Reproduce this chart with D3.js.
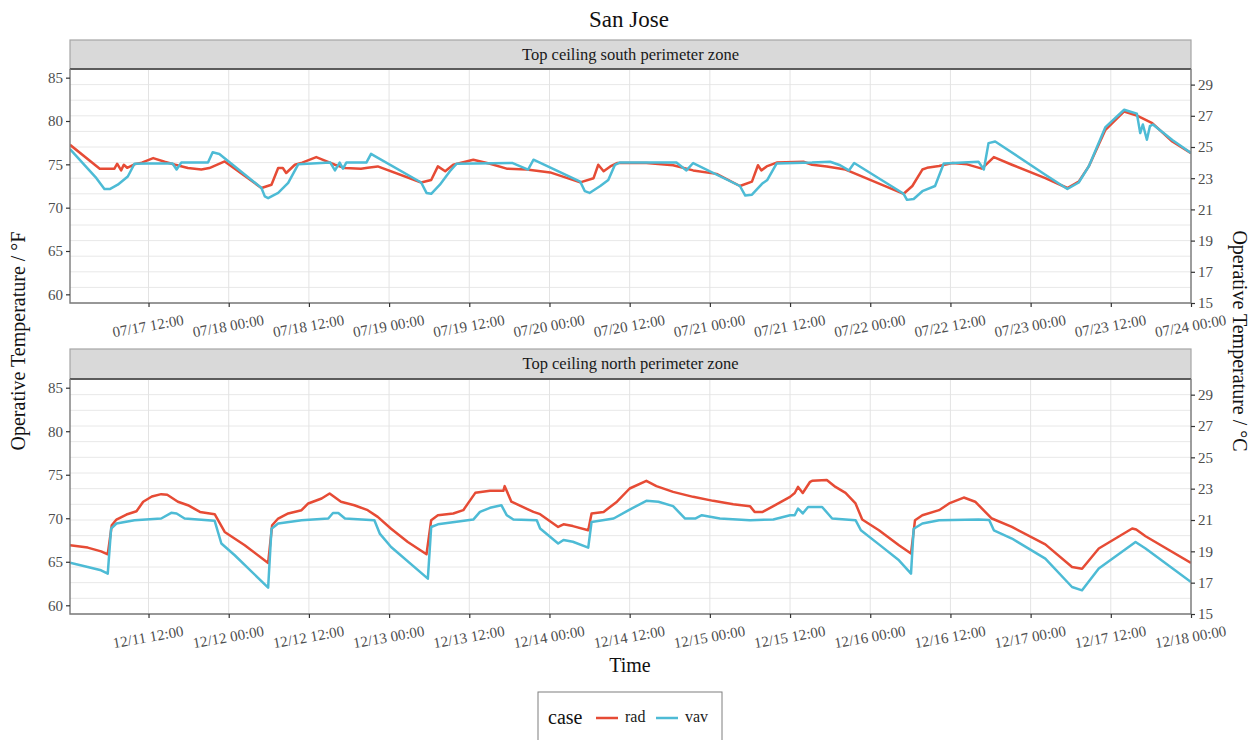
<!DOCTYPE html>
<html>
<head>
<meta charset="utf-8">
<script src="https://cdn.jsdelivr.net/npm/d3@7/dist/d3.min.js"></script>
<style>
  html, body { margin: 0; padding: 0; background: #ffffff; }
  svg { display: block; }
  svg text { font-family: "Palatino Linotype", "Book Antiqua", Palatino, "Liberation Serif", serif; }
</style>
</head>
<body>
<svg id="chart" width="1255" height="740"></svg>
<script>
// ---- Data: operative temperature (°F), time as hours after midnight of the first day ----
const seriesNames = ["rad", "vav"];
const seriesColors = ["#E64B35", "#4DBBD5"];

const fTicks = [60, 65, 70, 75, 80, 85];
const cTicks = [15, 17, 19, 21, 23, 25, 27, 29];
const cGrid = [15, 16, 17, 18, 19, 20, 21, 22, 23, 24, 25, 26, 27, 28, 29, 30];

// Top ceiling south perimeter zone, 07/17 - 07/24
const southRadHours = [0.25, 4.7, 6.9, 7.3, 7.9, 8.3, 8.8, 9.9, 11, 12.7, 14.4, 16.0, 17.9, 19.9, 21.1, 23.4,
  28.9, 30.4, 31.4, 32.1, 32.6, 33.9, 35.0, 37.1, 38.3, 39.9, 41.4, 43.8, 44.8, 46.3,
  52.8, 54.3, 55.3, 56.4, 57.6, 60.6, 63.1, 65.6, 68.6, 72.1, 76.6, 78.6, 79.3, 80.1, 81.1, 82.1, 86.5,
  90.5, 93.5, 97.0, 100.5, 102.3, 103.2, 103.7, 104.5, 106.0, 110.0, 111.3, 113.5, 116.3, 117.3,
  125.0, 126.3, 127.8, 128.5, 130.3, 132.3, 134.5, 136.7, 138.5, 141.2, 146.2, 149.5, 151.2, 152.7,
  155.2, 158.0, 160.0, 162.2, 165.2, 168.0];
const southRadTemp = [77.25, 74.5, 74.5, 75.07, 74.3, 74.95, 74.6, 75.0, 75.2, 75.72, 75.3, 74.95, 74.57, 74.4, 74.57, 75.33,
  72.27, 72.65, 74.57, 74.57, 74.0, 74.95, 75.2, 75.84, 75.45, 74.95, 74.57, 74.5, 74.6, 74.76,
  72.9, 73.2, 74.76, 74.2, 74.95, 75.53, 75.07, 74.5, 74.4, 74.07, 72.92, 73.4, 74.95, 74.2, 74.76, 75.15, 75.15,
  74.9, 74.3, 73.9, 72.5, 73.0, 74.9, 74.3, 74.76, 75.2, 75.3, 74.95, 74.76, 74.4, 74.07,
  71.6, 72.5, 74.4, 74.6, 74.8, 75.15, 75.0, 74.5, 75.84, 74.95, 73.4, 72.27, 73.0, 74.76,
  78.98, 81.1, 80.6, 79.75, 77.64, 76.3];

const southVavHours = [0.25, 4.2, 5.4, 6.2, 7.4, 8.9, 9.9, 12, 15.6, 16.2, 16.9, 20.9, 21.6, 22.6,
  28.9, 29.4, 29.9, 31.4, 32.9, 34.4, 39.2, 39.9, 40.6, 41.1, 41.6, 44.6, 45.3, 46.0,
  52.8, 53.6, 54.3, 55.6, 57.1, 58.1, 66.5, 68.8, 69.6, 76.6, 77.3, 78.0, 79.6, 80.8, 81.8, 82.5,
  91.0, 92.5, 93.5, 100.5, 101.3, 102.3, 103.8, 104.6, 106.0, 111.3, 114.0, 115.5, 116.8, 117.6,
  125.0, 125.5, 126.5, 127.8, 129.7, 131.0, 136.2, 137.0, 137.7, 138.7, 146.2, 149.5, 151.2, 152.7,
  155.2, 158.0, 159.9, 160.4, 160.8, 161.4, 161.85, 162.3, 165.2, 168.0];
const southVavTemp = [76.76, 73.4, 72.15, 72.15, 72.65, 73.6, 75.07, 75.1, 75.1, 74.4, 75.2, 75.2, 76.4, 76.2,
  72.27, 71.3, 71.1, 71.7, 72.85, 75.0, 75.2, 74.3, 75.2, 74.5, 75.2, 75.2, 76.2, 75.9,
  72.9, 71.7, 71.6, 72.65, 74.2, 75.07, 75.15, 74.4, 75.53, 73.0, 71.9, 71.7, 72.5, 73.2, 74.95, 75.2,
  75.2, 74.3, 75.15, 72.5, 71.4, 71.5, 72.75, 73.2, 75.1, 75.2, 75.3, 74.9, 74.3, 75.15,
  71.6, 70.9, 71.0, 71.9, 72.5, 75.1, 75.3, 74.4, 77.45, 77.64, 73.8, 72.15, 72.9, 74.76,
  79.3, 81.3, 80.85, 78.6, 79.6, 77.83, 79.4, 79.6, 77.8, 76.3];

// Top ceiling north perimeter zone, 12/11 - 12/18
const northRadHours = [0.25, 2.9, 4.9, 5.9, 6.5, 7.2, 8.7, 10.2, 11.2, 12.5, 13.9, 14.8, 16.4, 17.9, 19.7, 21.9,
  23.4, 26.4, 29.9, 30.5, 31.4, 32.9, 34.9, 35.9, 37.9, 39.1, 40.8, 42.8, 44.8, 46.3, 48.3, 50.8, 53.6,
  54.3, 55.3, 57.6, 59.1, 60.9, 63.1, 65.1, 65.3, 66.3, 69.6, 70.6, 73.3, 74.1, 75.5, 77.8,
  78.3, 80.1, 82.1, 84.0, 86.5, 88.0, 90.5, 93.5, 96.5, 99.5, 102.0, 102.7, 103.9, 105.5, 108.0,
  108.7, 109.2, 109.9, 111.0, 111.3, 113.5, 114.8, 116.3, 117.8, 118.8, 121.3, 124.3, 126.1,
  126.7, 127.8, 130.3, 131.8, 134.0, 135.7, 138.2, 141.2, 146.2, 150.2, 151.7, 154.2, 159.2, 159.8, 161.2, 168.0];
const northRadTemp = [66.9, 66.63, 66.2, 65.86, 69.2, 69.85, 70.43, 70.8, 71.9, 72.5, 72.77, 72.7, 71.9, 71.5, 70.73, 70.47,
  68.43, 66.9, 64.86, 69.2, 69.97, 70.55, 70.93, 71.7, 72.27, 72.85, 71.9, 71.5, 70.93, 70.16, 68.8, 67.28, 65.86,
  69.78, 70.35, 70.55, 70.93, 72.92, 73.15, 73.15, 73.69, 71.9, 70.73, 70.47, 69.0, 69.3, 69.1, 68.62,
  70.55, 70.73, 71.9, 73.42, 74.3, 73.7, 73.03, 72.46, 72.0, 71.62, 71.39, 70.73, 70.73, 71.39, 72.46,
  72.9, 73.6, 72.9, 74.19, 74.3, 74.4, 73.6, 72.92, 71.7, 69.85, 68.62, 66.9, 65.94,
  69.78, 70.35, 70.93, 71.7, 72.38, 71.9, 69.97, 69.0, 67.0, 64.4, 64.2, 66.52, 68.82, 68.7, 67.93, 64.86];

const northVavHours = [0.25, 2.9, 4.9, 5.9, 6.4, 7.2, 9.9, 13.9, 15.4, 16.2, 17.4, 21.9, 22.9, 24.9, 29.9,
  30.4, 31.4, 34.9, 38.9, 39.6, 40.4, 41.4, 45.8, 46.6, 48.3, 53.8,
  54.3, 55.3, 60.6, 61.6, 63.1, 64.8, 65.6, 66.6, 70.1, 70.6, 73.3, 74.1, 75.5, 77.8,
  78.3, 81.6, 84.0, 86.5, 88.3, 90.5, 92.3, 93.8, 94.8, 97.5, 102.0, 105.5, 108.0, 108.7, 109.2, 109.9, 110.7,
  112.8, 114.3, 117.8, 118.6, 121.3, 124.3, 126.1, 126.5, 127.8, 130.3, 136.2, 137.8, 138.5, 141.2, 146.2,
  150.2, 151.7, 154.2, 159.7, 161.2, 168.0];
const northVavTemp = [64.9, 64.4, 64.02, 63.64, 68.8, 69.4, 69.78, 69.97, 70.62, 70.55, 69.97, 69.7, 67.1, 65.75, 62.03,
  68.8, 69.4, 69.78, 69.97, 70.6, 70.6, 69.97, 69.78, 68.24, 66.7, 63.07,
  69.0, 69.3, 69.85, 70.73, 71.2, 71.5, 70.35, 69.85, 69.78, 68.82, 67.1, 67.5, 67.3, 66.63,
  69.58, 69.97, 71.0, 72.0, 71.9, 71.39, 69.97, 69.97, 70.35, 69.97, 69.78, 69.85, 70.35, 70.35, 71.12, 70.55, 71.3,
  71.3, 69.97, 69.78, 68.62, 67.0, 65.17, 63.64, 68.8, 69.4, 69.78, 69.85, 69.8, 68.62, 67.67, 65.37,
  62.1, 61.72, 64.22, 67.28, 66.52, 62.67];

// ---- Panels ----
const panels = [
  { strip: "Top ceiling south perimeter zone", day0: Date.UTC(2017, 6, 17), stripTop: 40, top: 69, bottom: 303,
    series: [[southRadHours, southRadTemp], [southVavHours, southVavTemp]] },
  { strip: "Top ceiling north perimeter zone", day0: Date.UTC(2017, 11, 11), stripTop: 349, top: 379, bottom: 614,
    series: [[northRadHours, northRadTemp], [northVavHours, northVavTemp]] }
];

const left = 70, right = 1191;
const svg = d3.select("#chart");
const fmt = d3.utcFormat("%m/%d %H:%M");
const HOUR = 3600e3;

svg.append("text")
  .attr("x", 629).attr("y", 27)
  .attr("text-anchor", "middle")
  .attr("font-size", 23).attr("fill", "#111")
  .text("San Jose");

panels.forEach((p, pi) => {
  const x = d3.scaleUtc()
    .domain([new Date(p.day0 + 0.25 * HOUR), new Date(p.day0 + 168 * HOUR)])
    .range([left, right]);
  const yF = d3.scaleLinear().domain([59, 86]).range([p.bottom, p.top]);
  const yC = d3.scaleLinear().domain([15, 30]).range([p.bottom, p.top]);
  const g = svg.append("g");

  // strip
  g.append("rect")
    .attr("x", left).attr("y", p.stripTop)
    .attr("width", right - left).attr("height", p.top - p.stripTop)
    .attr("fill", "#d9d9d9").attr("stroke", "#a6a6a6").attr("stroke-width", 1.2);
  g.append("text")
    .attr("x", (left + right) / 2).attr("y", (p.stripTop + p.top) / 2 + 5)
    .attr("text-anchor", "middle").attr("font-size", 16.5).attr("fill", "#1a1a1a")
    .text(p.strip);

  // grid
  const xTicks = x.ticks(d3.utcHour.every(12)).filter(t => +t > +x.domain()[0]);
  g.append("g").selectAll("line").data(cGrid).join("line")
    .attr("x1", left).attr("x2", right)
    .attr("y1", d => yC(d)).attr("y2", d => yC(d))
    .attr("stroke", "#e8e8e8").attr("stroke-width", 1);
  g.append("g").selectAll("line").data(xTicks).join("line")
    .attr("x1", d => x(d)).attr("x2", d => x(d))
    .attr("y1", p.top).attr("y2", p.bottom)
    .attr("stroke", "#e3e3e3").attr("stroke-width", 1);

  // lines
  const clipId = "clip" + pi;
  svg.append("clipPath").attr("id", clipId).append("rect")
    .attr("x", left).attr("y", p.top).attr("width", right - left).attr("height", p.bottom - p.top);
  const line = d3.line()
    .x(d => x(new Date(p.day0 + d[0] * HOUR)))
    .y(d => yF(d[1]));
  p.series.forEach((s, si) => {
    const pts = s[0].map((h, i) => [h, s[1][i]]);
    g.append("path")
      .datum(pts)
      .attr("clip-path", `url(#${clipId})`)
      .attr("d", line)
      .attr("fill", "none")
      .attr("stroke", seriesColors[si])
      .attr("stroke-width", 2.5)
      .attr("stroke-linejoin", "round");
  });

  // panel border
  g.append("line").attr("x1", left).attr("x2", right).attr("y1", p.top).attr("y2", p.top)
    .attr("stroke", "#333").attr("stroke-width", 1.6);
  g.append("path")
    .attr("d", `M${left},${p.top}V${p.bottom}H${right}V${p.top}`)
    .attr("fill", "none").attr("stroke", "#7a7a7a").attr("stroke-width", 1.4);

  // axes
  const styleAxis = sel => {
    sel.attr("font-family", null).attr("font-size", null);
    sel.select(".domain").remove();
    sel.selectAll(".tick line").attr("stroke", "#333").attr("stroke-width", 1.2);
    sel.selectAll(".tick text").attr("fill", "#4d4d4d").attr("font-size", 15);
  };
  g.append("g").attr("transform", `translate(${left},0)`)
    .call(d3.axisLeft(yF).tickValues(fTicks).tickSize(4).tickPadding(3))
    .call(styleAxis);
  g.append("g").attr("transform", `translate(${right},0)`)
    .call(d3.axisRight(yC).tickValues(cTicks).tickSize(4).tickPadding(3))
    .call(styleAxis);
  const xa = g.append("g").attr("transform", `translate(0,${p.bottom})`)
    .call(d3.axisBottom(x).tickValues(xTicks).tickFormat(fmt).tickSize(4))
    .call(styleAxis);
  xa.selectAll(".tick text")
    .attr("y", 0).attr("dy", 0)
    .attr("text-anchor", "middle")
    .attr("transform", "translate(0,28) rotate(-10)");
});

// axis titles
svg.append("text")
  .attr("transform", "translate(25,341) rotate(-90)")
  .attr("text-anchor", "middle").attr("font-size", 20).attr("fill", "#111")
  .text("Operative Temperature / °F");
svg.append("text")
  .attr("transform", "translate(1233,341) rotate(90)")
  .attr("text-anchor", "middle").attr("font-size", 20).attr("fill", "#111")
  .text("Operative Temperature / °C");
svg.append("text")
  .attr("x", 630).attr("y", 672)
  .attr("text-anchor", "middle").attr("font-size", 20).attr("fill", "#111")
  .text("Time");

// legend
const lg = svg.append("g");
lg.append("rect").attr("x", 538).attr("y", 692).attr("width", 184).attr("height", 60)
  .attr("fill", "#fff").attr("stroke", "#7f7f7f").attr("stroke-width", 1);
lg.append("text").attr("x", 548).attr("y", 724).attr("font-size", 20).attr("fill", "#111").text("case");
const legX = d3.scalePoint().domain(seriesNames).range([596, 656]);
seriesNames.forEach((n, i) => {
  lg.append("line")
    .attr("x1", legX(n)).attr("x2", legX(n) + 22)
    .attr("y1", 718).attr("y2", 718)
    .attr("stroke", seriesColors[i]).attr("stroke-width", 2.5);
  lg.append("text").attr("x", legX(n) + 29).attr("y", 722)
    .attr("font-size", 16).attr("fill", "#1a1a1a").text(n);
});
</script>
</body>
</html>
